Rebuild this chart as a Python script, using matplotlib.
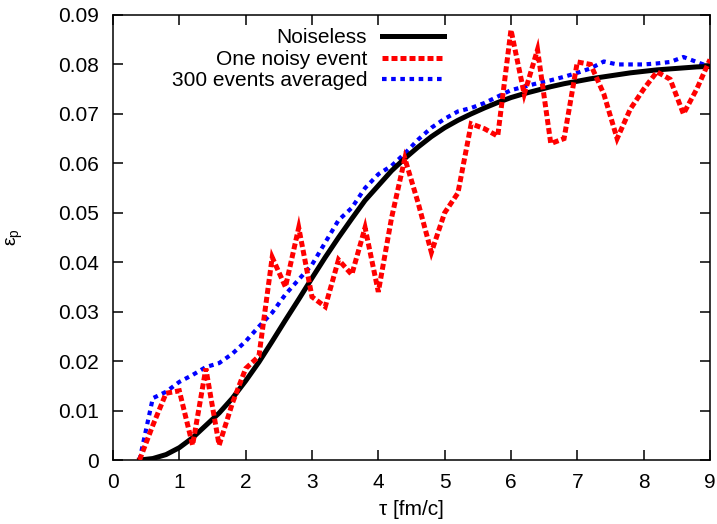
import numpy as np
import matplotlib
matplotlib.use("Agg")
import matplotlib.pyplot as plt

plt.rcParams['font.family'] = ['Liberation Sans', 'DejaVu Sans']

# tau grid [fm/c]
tau = [0.4, 0.6, 0.8, 1.0, 1.2, 1.4, 1.6, 1.8, 2.0, 2.2, 2.4, 2.6, 2.8, 3.0,
       3.2, 3.4, 3.6, 3.8, 4.0, 4.2, 4.4, 4.6, 4.8, 5.0, 5.2, 5.4, 5.6, 5.8,
       6.0, 6.2, 6.4, 6.6, 6.8, 7.0, 7.2, 7.4, 7.6, 7.8, 8.0, 8.2, 8.4, 8.6,
       8.8, 9.0]

noiseless = [0.0, 0.0003, 0.0011, 0.0025, 0.0045, 0.007, 0.0095, 0.0125,
             0.016, 0.0198, 0.024, 0.0283, 0.0325, 0.0368, 0.041, 0.045,
             0.0488, 0.0525, 0.0555, 0.0585, 0.061, 0.0633, 0.0654, 0.0672,
             0.0687, 0.07, 0.0712, 0.0723, 0.0733, 0.0741, 0.0748, 0.0755,
             0.0761, 0.0766, 0.0771, 0.0775, 0.0779, 0.0783, 0.0786, 0.0789,
             0.0791, 0.0793, 0.0795, 0.0796]

noisy = [0.0, 0.007, 0.0135, 0.014, 0.003, 0.0185, 0.003, 0.0115, 0.0185,
         0.021, 0.041, 0.035, 0.047, 0.033, 0.031, 0.0405, 0.0375, 0.047,
         0.034, 0.049, 0.061, 0.052, 0.042, 0.050, 0.054, 0.068, 0.067,
         0.0655, 0.087, 0.074, 0.083, 0.064, 0.065, 0.0805, 0.080, 0.074,
         0.065, 0.071, 0.075, 0.0785, 0.077, 0.070, 0.075, 0.081]

averaged = [0.0, 0.0125, 0.0138, 0.0158, 0.0172, 0.0188, 0.0196, 0.0215,
            0.024, 0.027, 0.0298, 0.0335, 0.0365, 0.0395, 0.044, 0.0485,
            0.051, 0.055, 0.0578, 0.0595, 0.062, 0.0648, 0.0672, 0.069,
            0.0705, 0.0712, 0.0722, 0.0735, 0.0748, 0.0755, 0.0762, 0.0768,
            0.0775, 0.0783, 0.0792, 0.0806, 0.0800, 0.0800, 0.0800, 0.0802,
            0.0805, 0.0815, 0.0805, 0.0795]

labels = ['Noiseless', 'One noisy event', '300 events averaged']

fig = plt.figure(figsize=(7.17, 5.24), dpi=100)
ax = fig.add_axes([0.1576, 0.1221, 0.8326, 0.8493])

ax.plot(tau, noiseless, color='black', lw=3.6, solid_joinstyle='round',
        label=labels[0], zorder=3)
ax.plot(tau, noisy, color='#ff0000', lw=3.6, linestyle=(0, (1.2, 0.6)),
        dash_joinstyle='miter', label=labels[1], zorder=4)
ax.plot(tau, averaged, color='#0000ff', lw=3.0, linestyle=(0, (1.1, 1.1)),
        label=labels[2], zorder=2)

ax.set_xlim(0, 9)
ax.set_ylim(0, 0.09)
ax.set_xticks(np.arange(0, 10, 1))
ax.set_yticks(np.arange(0, 0.0901, 0.01))
ax.set_yticklabels(['0'] + ['%.2f' % v for v in np.arange(0.01, 0.0901, 0.01)])
ax.tick_params(direction='in', length=7, width=1.1, labelsize=15,
               top=True, right=True)
ax.tick_params(axis='x', pad=9)
ax.tick_params(axis='y', pad=10)
for s in ax.spines.values():
    s.set_linewidth(1.1)

ax.set_xlabel('τ [fm/c]', fontsize=15, labelpad=6)
ax.set_ylabel(r'ε$_\mathregular{p}$', fontsize=14, labelpad=24)

ax.legend(loc='upper right', bbox_to_anchor=(0.555, 0.97), frameon=False,
          markerfirst=False, fontsize=15, handlelength=3.0,
          handletextpad=0.7, labelspacing=0.12, borderpad=0, borderaxespad=0)

fig.savefig('out.png', dpi=100)
